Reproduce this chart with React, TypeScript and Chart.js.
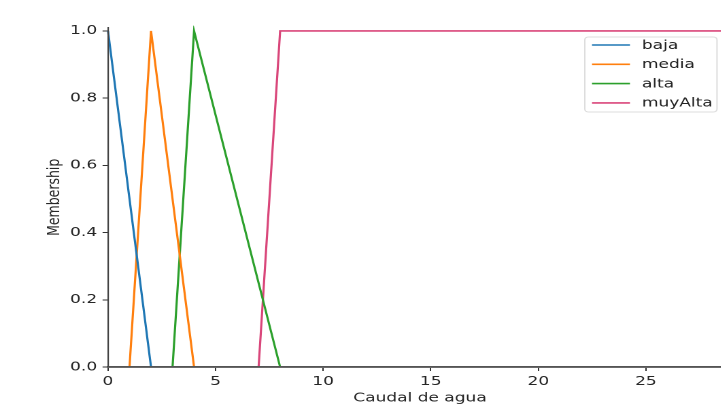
import React, { useEffect, useRef } from "react";
import { Chart, registerables } from "chart.js";

Chart.register(...registerables);

// ---- data ----
const xRange = [0, 29];
const yRange = [0, 1.01];
const xTicks = [0, 5, 10, 15, 20, 25];
const yTicks = [0, 0.2, 0.4, 0.6, 0.8, 1.0];

const seriesNames = ["baja", "media", "alta", "muyAlta"];
const seriesColors = ["#1f77b4", "#ff7f0e", "#2ca02c", "#d9467a"];

const bajaX = [0, 2, 29];
const bajaY = [1, 0, 0];
const mediaX = [0, 1, 2, 4, 29];
const mediaY = [0, 0, 1, 0, 0];
const altaX = [0, 3, 4, 8, 29];
const altaY = [0, 0, 1, 0, 0];
const muyAltaX = [0, 7, 8, 29];
const muyAltaY = [0, 0, 1, 1];

const xTitle = "Caudal de agua";
const yTitle = "Membership";

// ---- styling ----
const STRETCH = 1.36;
const FONT = "DejaVu Sans";

const seriesX = [bajaX, mediaX, altaX, muyAltaX];
const seriesY = [bajaY, mediaY, altaY, muyAltaY];

const boxLegend = {
  id: "boxLegend",
  afterDraw(chart: any) {
    const { ctx, chartArea } = chart;
    const boxW = 97.2;
    const boxH = 75;
    const right = chartArea.right - 11;
    const left = right - boxW;
    const top = chartArea.top + 9.4;
    ctx.save();
    ctx.beginPath();
    const r = 3;
    ctx.moveTo(left + r, top);
    ctx.lineTo(right - r, top);
    ctx.quadraticCurveTo(right, top, right, top + r);
    ctx.lineTo(right, top + boxH - r);
    ctx.quadraticCurveTo(right, top + boxH, right - r, top + boxH);
    ctx.lineTo(left + r, top + boxH);
    ctx.quadraticCurveTo(left, top + boxH, left, top + boxH - r);
    ctx.lineTo(left, top + r);
    ctx.quadraticCurveTo(left, top, left + r, top);
    ctx.closePath();
    ctx.fillStyle = "rgba(255,255,255,0.8)";
    ctx.fill();
    ctx.strokeStyle = "#dddddd";
    ctx.lineWidth = 1;
    ctx.stroke();
    ctx.font = `12.5px '${FONT}'`;
    ctx.textBaseline = "middle";
    ctx.textAlign = "left";
    chart.data.datasets.forEach((ds: any, i: number) => {
      const y = top + 8 + i * 19.3;
      ctx.beginPath();
      ctx.strokeStyle = ds.borderColor;
      ctx.lineWidth = 1.6;
      ctx.moveTo(left + 5.3, y);
      ctx.lineTo(left + 33.2, y);
      ctx.stroke();
      ctx.fillStyle = "#222222";
      ctx.fillText(ds.label, left + 42, y + 0.5);
    });
    ctx.restore();
  },
};

export default function App() {
  const ref = useRef<HTMLCanvasElement | null>(null);

  useEffect(() => {
    if (!ref.current) return;
    const datasets = seriesNames.map((name, i) => ({
      label: name,
      data: seriesX[i].map((x, j) => ({ x, y: seriesY[i][j] })),
      borderColor: seriesColors[i],
      backgroundColor: seriesColors[i],
      borderWidth: 1.6,
      pointRadius: 0,
      fill: false,
      tension: 0,
      showLine: true,
      clip: { left: 1, top: 2, right: 0, bottom: 0 },
    }));
    const tickFont = { family: FONT, size: 12.5 };
    const chart = new Chart(ref.current, {
      type: "scatter",
      data: { datasets },
      plugins: [boxLegend],
      options: {
        animation: false,
        responsive: false,
        devicePixelRatio: 2,
        layout: { padding: { top: 27.6, right: 11.8, bottom: 0, left: 0 } },
        plugins: { legend: { display: false }, tooltip: { enabled: false } },
        scales: {
          x: {
            type: "linear",
            min: xRange[0],
            max: xRange[1],
            afterBuildTicks: (s: any) => {
              s.ticks = xTicks.map((v) => ({ value: v }));
            },
            afterFit: (s: any) => {
              s.height = 41;
            },
            ticks: {
              callback: (v: any) => String(v),
              font: tickFont,
              color: "#262626",
              padding: 3,
              maxRotation: 0,
            },
            grid: {
              drawOnChartArea: false,
              drawTicks: true,
              tickLength: 4,
              tickColor: "#333333",
              tickWidth: 1,
            },
            border: { display: true, color: "#555555", width: 1.9, z: 1 },
            title: {
              display: true,
              text: xTitle,
              font: tickFont,
              color: "#262626",
              padding: { top: 0, bottom: 2.5 },
            },
          },
          y: {
            type: "linear",
            min: yRange[0],
            max: yRange[1],
            afterBuildTicks: (s: any) => {
              s.ticks = yTicks.map((v) => ({ value: v }));
            },
            afterFit: (s: any) => {
              s.width = 79.4;
            },
            ticks: {
              callback: (v: any) => Number(v).toFixed(1),
              font: tickFont,
              color: "#262626",
              padding: 4,
            },
            grid: {
              drawOnChartArea: false,
              drawTicks: true,
              tickLength: 4,
              tickColor: "#333333",
              tickWidth: 1,
            },
            border: { display: true, color: "#444444", width: 1.1, z: 1 },
            title: {
              display: true,
              text: yTitle,
              font: tickFont,
              color: "#262626",
              padding: { top: 32.9, bottom: 0 },
            },
          },
        },
      },
    } as any);
    return () => chart.destroy();
  }, []);

  return (
    <div
      style={{
        position: "fixed",
        left: 0,
        top: 0,
        width: 721,
        height: 408,
        overflow: "hidden",
        background: "#ffffff",
      }}
    >
      <canvas
        ref={ref}
        width={550}
        height={408}
        style={{
          display: "block",
          transform: `scaleX(${STRETCH})`,
          transformOrigin: "0 0",
        }}
      />
    </div>
  );
}
